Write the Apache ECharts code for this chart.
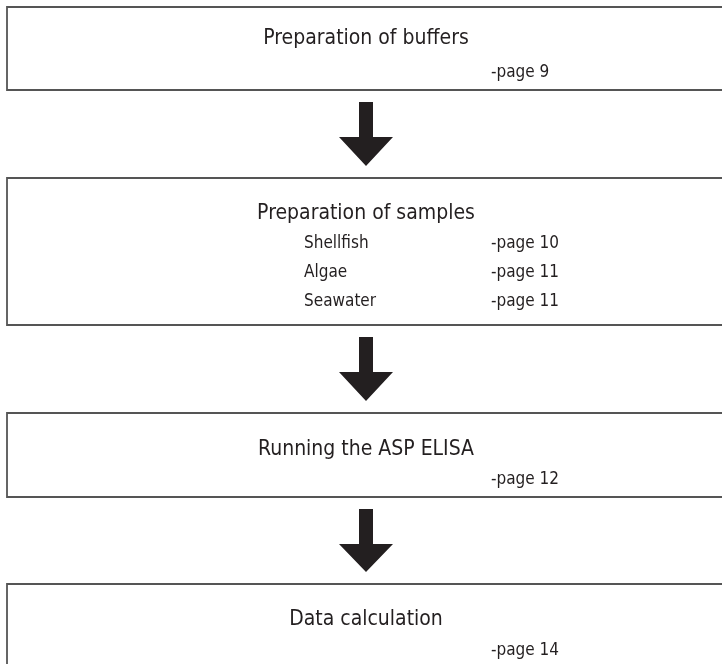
<!DOCTYPE html>
<html>
<head>
<meta charset="utf-8">
<script src="https://cdn.jsdelivr.net/npm/echarts@6/dist/echarts.min.js"></script>
<style>
html,body{margin:0;padding:0;background:#fff;}
#chart{width:722px;height:664px;}
</style>
</head>
<body>
<div id="chart"></div>
<script>
// Content
const steps = ['Preparation of buffers', 'Preparation of samples', 'Running the ASP ELISA', 'Data calculation'];
const stepPages = ['-page 9', null, '-page 12', '-page 14'];
const subItems = ['Shellfish', 'Algae', 'Seawater'];
const subPages = ['-page 10', '-page 11', '-page 11'];

// Layout (pixels)
const FONT = "'Liberation Sans Narrow', 'DejaVu Sans Condensed', sans-serif";
const TEXT = '#231f20';
const BORDER = '#555555';
const boxLeft = 7, boxRight = 730;
const boxTops = [7, 178, 413, 584];
const boxBottoms = [90, 325, 497, 670];
const titleY = [38.5, 213.5, 449.5, 619.5];
const pageY = [72.5, null, 479.5, 651];
const centerX = 366;
const pageX = 491;
const subX = 304;
const subY = [243, 272, 300.5];

const chart = echarts.init(document.getElementById('chart'), null, {renderer: 'canvas'});
const graphic = [];

steps.forEach((s, i) => {
  graphic.push({
    type: 'rect',
    shape: {x: boxLeft, y: boxTops[i], width: boxRight - boxLeft, height: boxBottoms[i] - boxTops[i]},
    style: {fill: '#fff', stroke: BORDER, lineWidth: 1.8}
  });
  graphic.push({
    type: 'text', x: centerX, y: titleY[i],
    style: {text: s, font: '21px ' + FONT, fill: TEXT, textAlign: 'center', textVerticalAlign: 'middle'}
  });
  if (stepPages[i]) {
    graphic.push({
      type: 'text', x: pageX, y: pageY[i],
      style: {text: stepPages[i], font: '17px ' + FONT, fill: TEXT, textAlign: 'left', textVerticalAlign: 'middle'}
    });
  }
  if (i < steps.length - 1) {
    const top = boxBottoms[i] + 12;
    const headTop = top + 35;
    const tip = boxTops[i + 1] - 12;
    graphic.push({
      type: 'polygon',
      shape: {points: [
        [centerX - 7, top], [centerX + 7, top], [centerX + 7, headTop],
        [centerX + 27, headTop], [centerX, tip], [centerX - 27, headTop],
        [centerX - 7, headTop]
      ]},
      style: {fill: TEXT}
    });
  }
});

subItems.forEach((s, j) => {
  graphic.push({
    type: 'text', x: subX, y: subY[j] + 1,
    style: {text: s, font: '17px ' + FONT, fill: TEXT, textAlign: 'left', textVerticalAlign: 'middle'}
  });
  graphic.push({
    type: 'text', x: pageX, y: subY[j] + 1,
    style: {text: subPages[j], font: '17px ' + FONT, fill: TEXT, textAlign: 'left', textVerticalAlign: 'middle'}
  });
});

chart.setOption({animation: false, graphic: graphic});
</script>
</body>
</html>
